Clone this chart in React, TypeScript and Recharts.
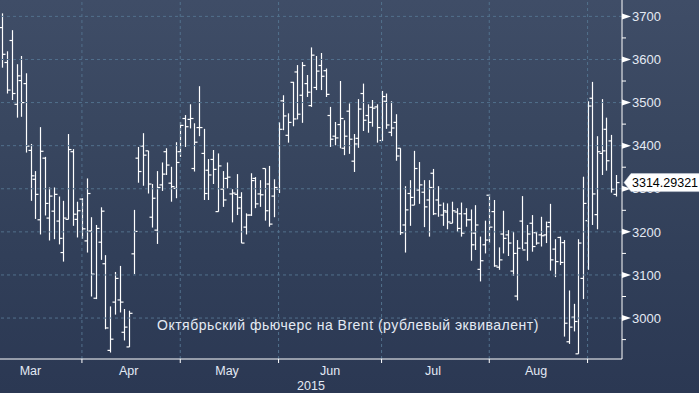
import React from "react";
import { ComposedChart, Bar, XAxis, YAxis, ReferenceLine } from "recharts";

// daily OHLC, early March .. early September 2015
const highs = [
  3707, 3619, 3668, 3589, 3608, 3568, 3404, 3341, 3443, 3374,
  3303, 3303, 3282, 3272, 3427, 3392, 3270, 3278, 3324, 3234,
  3216, 3257, 3146, 3027, 3107, 3121, 3021, 3017, 3251, 3397,
  3429, 3388, 3311, 3341, 3361, 3394, 3351, 3408, 3455, 3471,
  3496, 3452, 3538, 3439, 3369, 3390, 3382, 3341, 3361, 3299,
  3334, 3292, 3243, 3336, 3327, 3320, 3347, 3353, 3322, 3454,
  3517, 3475, 3548, 3587, 3594, 3564, 3628, 3608, 3615, 3579,
  3490, 3455, 3550, 3459, 3498, 3427, 3508, 3544, 3496, 3506,
  3496, 3527, 3521, 3503, 3473, 3394, 3306, 3320, 3388, 3362,
  3320, 3320, 3346, 3306, 3268, 3266, 3270, 3255, 3268, 3255,
  3252, 3262, 3189, 3226, 3288, 3274, 3164, 3249, 3204, 3200,
  3181, 3283, 3216, 3239, 3200, 3235, 3224, 3265, 3183, 3189,
  3181, 3064, 3033, 3183, 3328, 3503, 3548, 3422, 3508, 3465,
  3425, 3332,
];
const lows = [
  3581, 3521, 3506, 3465, 3467, 3384, 3272, 3230, 3194, 3238,
  3180, 3183, 3171, 3131, 3229, 3214, 3187, 3184, 3152, 3050,
  3044, 3135, 2974, 2920, 3008, 3013, 2948, 2933, 3102, 3314,
  3307, 3289, 3210, 3172, 3295, 3332, 3270, 3278, 3374, 3397,
  3440, 3340, 3422, 3274, 3274, 3311, 3247, 3258, 3301, 3222,
  3239, 3174, 3194, 3237, 3255, 3258, 3226, 3212, 3234, 3290,
  3436, 3407, 3445, 3461, 3453, 3513, 3490, 3529, 3529, 3513,
  3397, 3401, 3394, 3378, 3381, 3339, 3395, 3434, 3430, 3444,
  3407, 3411, 3439, 3422, 3365, 3193, 3152, 3214, 3262, 3265,
  3211, 3189, 3239, 3235, 3214, 3206, 3220, 3200, 3189, 3212,
  3133, 3158, 3085, 3150, 3174, 3119, 3112, 3150, 3144, 3098,
  3041, 3160, 3133, 3154, 3170, 3166, 3174, 3110, 3095, 3123,
  2957, 2940, 2969, 2917, 3044, 3112, 3216, 3206, 3332, 3342,
  3291, 3282,
];
const opens = [
  3674, 3593, 3644, 3496, 3551, 3544, 3389, 3322, 3228, 3371,
  3232, 3248, 3225, 3152, 3229, 3386, 3229, 3276, 3179, 3202,
  3046, 3176, 3126, 2925, 3037, 3042, 2967, 2933, 3149, 3371,
  3399, 3388, 3234, 3204, 3309, 3386, 3313, 3301, 3386, 3463,
  3461, 3347, 3442, 3382, 3343, 3368, 3247, 3299, 3324, 3288,
  3287, 3280, 3211, 3239, 3324, 3288, 3347, 3311, 3283, 3299,
  3504, 3424, 3547, 3571, 3517, 3544, 3493, 3535, 3586, 3574,
  3470, 3422, 3449, 3394, 3480, 3364, 3417, 3521, 3470, 3489,
  3490, 3412, 3503, 3431, 3454, 3394, 3216, 3289, 3262, 3297,
  3292, 3274, 3336, 3274, 3239, 3246, 3220, 3246, 3242, 3242,
  3228, 3197, 3113, 3170, 3285, 3247, 3118, 3195, 3193, 3109,
  3051, 3225, 3174, 3220, 3198, 3193, 3193, 3222, 3160, 3187,
  3175, 2945, 3002, 2917, 3092, 3226, 3510, 3240, 3382, 3438,
  3411, 3287,
];
const closes = [
  3612, 3529, 3521, 3562, 3500, 3399, 3330, 3287, 3387, 3266,
  3283, 3287, 3185, 3232, 3391, 3241, 3249, 3207, 3289, 3102,
  3208, 3248, 2977, 2951, 3092, 3037, 2979, 3011, 3201, 3340,
  3378, 3311, 3278, 3303, 3334, 3355, 3305, 3361, 3447, 3444,
  3463, 3408, 3442, 3289, 3332, 3345, 3353, 3274, 3327, 3290,
  3255, 3174, 3239, 3319, 3265, 3286, 3249, 3218, 3303, 3438,
  3469, 3454, 3462, 3473, 3586, 3524, 3610, 3573, 3561, 3519,
  3415, 3418, 3463, 3422, 3415, 3404, 3485, 3459, 3454, 3487,
  3442, 3514, 3448, 3441, 3376, 3198, 3251, 3280, 3347, 3309,
  3258, 3303, 3242, 3262, 3249, 3223, 3249, 3208, 3197, 3228,
  3170, 3216, 3133, 3181, 3211, 3121, 3135, 3185, 3174, 3150,
  3162, 3158, 3195, 3166, 3174, 3191, 3212, 3135, 3131, 3129,
  2988, 2979, 2992, 3174, 3266, 3492, 3288, 3386, 3388, 3365,
  3299, 3314.29321,
];

// first trading day of each month (bar index) and month label positions
const monthStarts = [17, 38, 59, 81, 104, 125];
const monthLabelIdx = [6, 27, 48, 70, 92, 114];
const monthLabels = ["Mar", "Apr", "May", "Jun", "Jul", "Aug"];

const yMajor = [3000, 3100, 3200, 3300, 3400, 3500, 3600, 3700];
const yMinor = [2950, 3050, 3150, 3250, 3350, 3450, 3550, 3650];
const lastPrice = 3314.29321;

const data = highs.map((h, i) => ({
  idx: i,
  range: [lows[i], h],
  high: h,
  low: lows[i],
  open: opens[i],
  close: closes[i],
}));

const FONT = "'Liberation Sans', Arial, sans-serif";
const TEXT = "#e4eaf4";
const GRID = "#52708c";

const OhlcShape = (props: any) => {
  const { x, y, width, height, payload } = props;
  if (x == null || y == null || !payload) return null;
  const cx = Math.round(x + width / 2) + 0.5;
  const top = Math.min(y, y + height);
  const bot = Math.max(y, y + height);
  const span = payload.high - payload.low || 1;
  const toY = (v: number) => top + ((payload.high - v) / span) * (bot - top);
  const yo = toY(payload.open);
  const yc = toY(payload.close);
  return (
    <g stroke="#ffffff" strokeWidth={1.2}>
      <line x1={cx} x2={cx} y1={top} y2={bot} />
      <line x1={cx - 3} x2={cx} y1={yo} y2={yo} />
      <line x1={cx} x2={cx + 3} y1={yc} y2={yc} />
    </g>
  );
};

const XTick = (props: any) => {
  const { x, y, payload } = props;
  const v = payload.value;
  if (monthStarts.includes(v)) {
    return <line x1={x} x2={x} y1={y} y2={y + 4} stroke="#ffffff" strokeWidth={1} />;
  }
  const k = monthLabelIdx.indexOf(v);
  if (k < 0) return null;
  return (
    <text x={x} y={y + 16} textAnchor="middle" fill={TEXT} fontSize={12.5} fontFamily={FONT}>
      {monthLabels[k]}
    </text>
  );
};

const YTick = (props: any) => {
  const { x, y, payload } = props;
  const v = payload.value;
  if (v === lastPrice) {
    return (
      <g>
        <path
          d={`M${x + 2},${y} L${x + 9},${y - 9} L${x + 80},${y - 9} L${x + 80},${y + 9} L${x + 9},${y + 9} Z`}
          fill="#ffffff"
          stroke="#cfd6e0"
          strokeWidth={0.5}
        />
        <text x={x + 10} y={y} dy="0.36em" fill="#000000" fontSize={12.5} fontFamily={FONT}>
          {v.toFixed(5)}
        </text>
      </g>
    );
  }
  if (yMinor.includes(v)) {
    return <line x1={x} x2={x + 4} y1={y} y2={y} stroke="#ffffff" strokeWidth={1} />;
  }
  return (
    <g>
      <path d={`M${x},${y - 3} L${x + 9},${y} L${x},${y + 3} Z`} fill="#ffffff" />
      <text x={x + 10} y={y} dy="0.36em" fill={TEXT} fontSize={13} fontFamily={FONT}>
        {v}
      </text>
    </g>
  );
};

export default function App() {
  return (
    <div
      style={{
        position: "absolute",
        left: 0,
        top: 0,
        width: 699,
        height: 393,
        background: "linear-gradient(to bottom, #3f4d67 0%, #38465f 35%, #313f59 65%, #2b3853 100%)",
        overflow: "hidden",
      }}
    >
      <ComposedChart
        width={699}
        height={393}
        data={data}
        margin={{ top: 0, right: 0, bottom: 0, left: 0 }}
      >
        <XAxis
          dataKey="idx"
          type="category"
          ticks={[...monthStarts, ...monthLabelIdx]}
          interval={0}
          tick={<XTick />}
          tickLine={false}
          tickSize={0}
          tickMargin={0}
          axisLine={{ stroke: "#ffffff", strokeWidth: 1 }}
          height={34}
          padding={{ left: 0, right: 4 }}
          label={{ value: "2015", position: "insideBottom", offset: 3, fill: TEXT, fontSize: 12.5, fontFamily: FONT }}
        />
        <YAxis
          orientation="right"
          type="number"
          domain={[2905, 3738]}
          allowDataOverflow
          ticks={[...yMinor, ...yMajor, lastPrice]}
          interval={0}
          tick={<YTick />}
          tickLine={false}
          tickSize={0}
          tickMargin={0}
          axisLine={{ stroke: "#ffffff", strokeWidth: 1 }}
          width={77}
        />
        {yMajor.map((v) => (
          <ReferenceLine key={"h" + v} y={v} stroke={GRID} strokeDasharray="3 3" />
        ))}
        {monthStarts.map((i) => (
          <ReferenceLine key={"v" + i} x={i} stroke={GRID} strokeDasharray="3 3" />
        ))}
        <Bar dataKey="range" shape={OhlcShape} isAnimationActive={false} />
      </ComposedChart>
      <div
        style={{
          position: "absolute",
          left: 157,
          top: 318,
          fontFamily: FONT,
          fontSize: 14,
          lineHeight: "14px",
          letterSpacing: "0.5px",
          color: TEXT,
          whiteSpace: "nowrap",
        }}
      >
        Октябрьский фьючерс на Brent (рублевый эквивалент)
      </div>
    </div>
  );
}
